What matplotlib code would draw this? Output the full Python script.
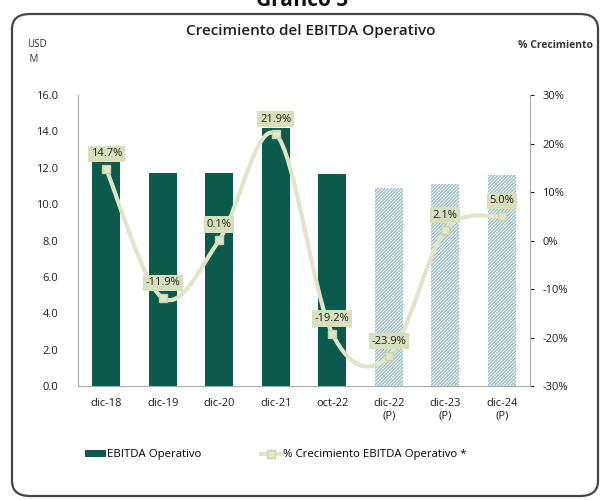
import numpy as np
import matplotlib
matplotlib.use("Agg")
import matplotlib.pyplot as plt
from matplotlib.path import Path
from matplotlib.patches import PathPatch, Patch, FancyBboxPatch
from matplotlib.lines import Line2D

plt.rcParams['font.family'] = ['Open Sans', 'DejaVu Sans']
plt.rcParams['hatch.linewidth'] = 0.7

categories = ["dic-18", "dic-19", "dic-20", "dic-21", "oct-22",
              "dic-22\n(P)", "dic-23\n(P)", "dic-24\n(P)"]
ebitda = [12.4, 11.7, 11.7, 14.2, 11.65, 10.9, 11.1, 11.6]
growth = [14.7, -11.9, 0.1, 21.9, -19.2, -23.9, 2.1, 5.0]
projected = [False, False, False, False, False, True, True, True]

bar_color = "#0b5a4b"
line_color = "#e0e5c9"
box_color = "#d8dfbd"
text_color = "#1e1e1e"

fig = plt.figure(figsize=(6.04, 5.0), dpi=100)

# rounded frame
frame = FancyBboxPatch((12 / 604, 4 / 500), 586 / 604, 482 / 500,
                       boxstyle="round,pad=0,rounding_size=0.03",
                       transform=fig.transFigure, fill=False,
                       edgecolor="#444444", linewidth=1.6)
fig.patches.append(frame)

fig.text(0.5, 1 - 11 / 500, "Gráfico 5", ha="center", va="bottom",
         fontsize=15, fontweight="bold", color="#111111")
fig.text(311 / 604, 1 - 31 / 500, "Crecimiento del EBITDA Operativo",
         ha="center", va="center", fontsize=11, fontweight="semibold",
         color=text_color)
fig.text(27 / 604, 1 - 52 / 500, "USD\n M", ha="left", va="center",
         fontsize=7, color="#333333", linespacing=1.6)
fig.text(556 / 604, 1 - 45 / 500, "% Crecimiento", ha="center", va="center",
         fontsize=7.5, fontweight="bold", color="#333333")

ax = fig.add_axes([78 / 604, 1 - 386 / 500, 452 / 604, 291 / 500])
x = np.arange(len(categories))

for xi, val, proj in zip(x, ebitda, projected):
    if proj:
        ax.bar(xi, val, width=0.5, facecolor="#e2eef0", edgecolor="#95b5bc",
               hatch="//////////", linewidth=0)
    else:
        ax.bar(xi, val, width=0.5, color=bar_color)

ax.set_xlim(-0.5, len(categories) - 0.5)
ax.set_ylim(0, 16)
ax.set_yticks(np.arange(0, 17, 2))
ax.set_yticklabels([f"{v:.1f}" for v in np.arange(0, 17, 2)])
ax.set_xticks(x)
ax.set_xticklabels(categories, linespacing=1.1)
ax.tick_params(axis="x", length=0, pad=9, labelsize=8, colors=text_color)
ax.tick_params(axis="y", length=0, pad=14, labelsize=8, colors=text_color)
for s in ["top", "right"]:
    ax.spines[s].set_visible(False)
ax.spines["left"].set_color("#aaaaaa")
ax.spines["bottom"].set_color("#aaaaaa")

ax2 = ax.twinx()
ax2.set_ylim(-30, 30)
ax2.set_yticks(np.arange(-30, 31, 10))
ax2.set_yticklabels([f"{v}%" for v in range(-30, 31, 10)])
ax2.tick_params(axis="y", length=3, pad=6, labelsize=8, colors=text_color)
for s in ["top", "left", "bottom"]:
    ax2.spines[s].set_visible(False)
ax2.spines["right"].set_color("#aaaaaa")

# smoothed line (Catmull-Rom as cubic Bezier segments)
pts = np.column_stack([x, growth]).astype(float)
verts = [pts[0]]
codes = [Path.MOVETO]
n = len(pts)
for i in range(n - 1):
    p0 = pts[max(i - 1, 0)]
    p1 = pts[i]
    p2 = pts[i + 1]
    p3 = pts[min(i + 2, n - 1)]
    c1 = p1 + (p2 - p0) / 6
    c2 = p2 - (p3 - p1) / 6
    verts += [c1, c2, p2]
    codes += [Path.CURVE4] * 3
ax2.add_patch(PathPatch(Path(verts, codes), fill=False, edgecolor=line_color,
                        linewidth=3, capstyle="round", zorder=3))
ax2.plot(x, growth, linestyle="none", marker="s", markersize=6,
         color=line_color, markeredgecolor="#cbd3ab", zorder=4)

for xi, g in zip(x, growth):
    ax2.annotate(f"{g:.1f}%", (xi, g), xytext=(0, 11), textcoords="offset points",
                 ha="center", va="center", fontsize=8, color=text_color,
                 bbox=dict(boxstyle="square,pad=0.25", facecolor=box_color,
                           edgecolor="none"), zorder=5)

handles = [Patch(facecolor=bar_color, label="EBITDA Operativo"),
           Line2D([0], [0], color=line_color, linewidth=3, marker="s",
                  markersize=6, markeredgecolor="#cbd3ab",
                  label="% Crecimiento EBITDA Operativo *")]
fig.legend(handles=handles, loc="center", bbox_to_anchor=(276 / 604, 1 - 455 / 500),
           ncol=2, frameon=False, fontsize=8.2, handlelength=1.8,
           handleheight=0.6, columnspacing=5.2, handletextpad=0.15)

fig.savefig("out.png", dpi=100)
